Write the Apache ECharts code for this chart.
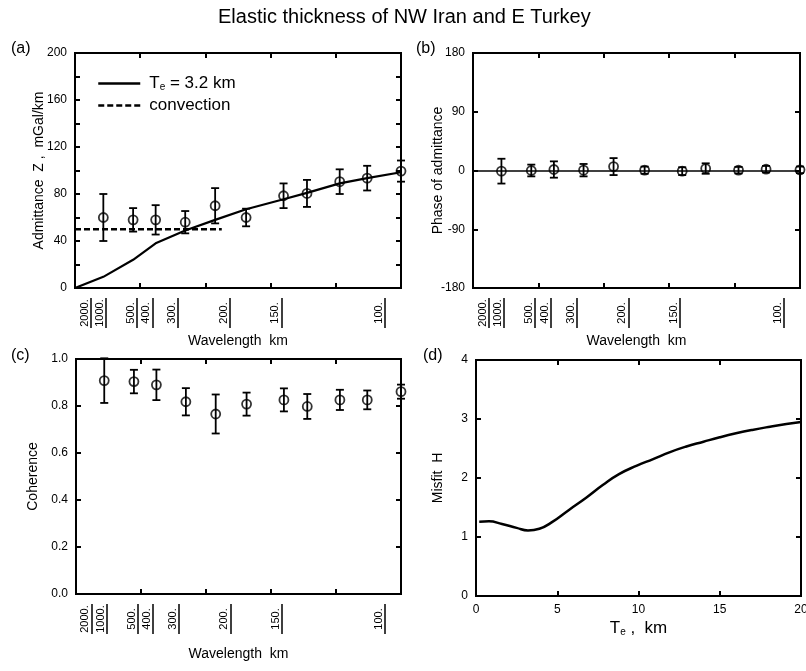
<!DOCTYPE html>
<html>
<head>
<meta charset="utf-8">
<script src="https://cdn.jsdelivr.net/npm/echarts@6/dist/echarts.min.js"></script>
<style>
html, body { margin: 0; padding: 0; background: #fff; }
#chart { width: 806px; height: 671px; }
</style>
</head>
<body>
<div id="chart"></div>
<script>
// Wavelengths (km) marked under the spectral panels
const WAVELENGTH_TICKS = [2000, 1000, 500, 400, 300, 200, 150, 100];
// Shortest wavelength (km) at the right edge of the spectral axes
const MIN_WAVELENGTH = 95;
// Centre wavelength (km) of each spectral band
const BAND_WAVELENGTH = [1093, 533, 384, 281, 221, 181, 148.5, 133.5, 117, 106, 95];

// (a) observed admittance, mGal/km, with one-sigma errors
const ADMITTANCE = [60, 58, 58, 56, 70, 60, 78.5, 80.5, 90.5, 93.5, 99.5];
const ADMITTANCE_ERR = [20, 10, 12.5, 9.5, 15, 7.5, 10.5, 11.5, 10.5, 10.5, 9];
// (a) elastic plate model, Te = 3.2 km (starts at zero wavenumber)
const MODEL_WAVELENGTH = [Infinity, 1093, 533, 384, 281, 221, 181, 148.5, 133.5, 117, 106, 95];
const MODEL_ADMITTANCE = [0, 9.5, 24, 38, 49, 58, 67, 75.5, 81, 89, 93.5, 98.5];
// (a) convective support level
const CONVECTION_WAVELENGTH = [Infinity, 211];
const CONVECTION_ADMITTANCE = [50, 50];

// (b) phase of admittance, degrees
const PHASE = [-1, 0, 1.5, 0.5, 6, 0.5, -1, 3, 0.5, 2, 1];
const PHASE_ERR = [19, 9, 12.5, 9.5, 13, 5.5, 6, 8, 5, 5, 5];

// (c) coherence
const COHERENCE = [0.908, 0.904, 0.89, 0.818, 0.766, 0.808, 0.826, 0.798, 0.826, 0.826, 0.861];
const COHERENCE_ERR = [0.095, 0.05, 0.065, 0.058, 0.083, 0.049, 0.049, 0.053, 0.043, 0.04, 0.03];

// (d) misfit against elastic thickness
const TE_KM = [0.2, 0.8, 1.6, 2.5, 3.2, 3.9, 4.7, 5.7, 6.8, 7.8, 8.8, 9.9, 10.9, 11.9, 12.9, 14.0, 15.0, 16.0, 17.0, 18.1, 19.1, 20.0];
const MISFIT = [1.26, 1.265, 1.22, 1.155, 1.11, 1.14, 1.256, 1.455, 1.67, 1.88, 2.065, 2.21, 2.32, 2.435, 2.53, 2.615, 2.69, 2.757, 2.815, 2.87, 2.915, 2.95];

const MODEL_NAME = 'Te = 3.2 km';
const CONVECTION_NAME = 'convection';

// wavenumber in cycles per 1000 km
const wn = (lambda) => 1000 / lambda;
const K_MAX = wn(MIN_WAVELENGTH);

const FONT = '"Liberation Sans", Arial, Helvetica, sans-serif';
const BLACK = '#000';

const grids = [
  { left: 75, top: 53, width: 326, height: 235 },
  { left: 473, top: 53, width: 327, height: 235 },
  { left: 76, top: 359, width: 325, height: 235 },
  { left: 476, top: 360, width: 325, height: 236 }
].map(g => Object.assign({ show: true, borderColor: BLACK, borderWidth: 2, backgroundColor: 'transparent', outerBoundsMode: 'none' }, g));

const tickStyle = () => ({ show: true, inside: true, length: 5, lineStyle: { color: BLACK, width: 2 } });

function frameAxis(gridIndex, position, extra) {
  return Object.assign({
    gridIndex, position, type: 'value',
    axisLine: { show: false, onZero: false },
    axisTick: tickStyle(),
    axisLabel: { show: false },
    splitLine: { show: false },
    nameMoveOverlap: false
  }, extra);
}

function wavenumberAxes(gridIndex, nameGap) {
  const base = { min: 0, max: K_MAX, interval: K_MAX / 5 };
  const tickValues = WAVELENGTH_TICKS.map(wn);
  return [
    frameAxis(gridIndex, 'bottom', Object.assign({
      name: 'Wavelength  km', nameLocation: 'middle', nameGap,
      nameTextStyle: { fontSize: 14, color: BLACK, fontFamily: FONT }
    }, base)),
    frameAxis(gridIndex, 'top', base),
    frameAxis(gridIndex, 'bottom', Object.assign({
      offset: 10,
      axisTick: { show: true, inside: false, length: 30, customValues: tickValues, lineStyle: { color: BLACK, width: 1.5 } },
      axisLabel: {
        show: true, customValues: tickValues, rotate: 90, margin: 0,
        fontSize: 11, color: BLACK, fontFamily: FONT,
        padding: [0, 0, 12, 0],
        formatter: (v) => '{w|' + Math.round(1000 / v) + '.}',
        rich: { w: { width: 30, align: 'center', fontSize: 11, fontFamily: FONT, color: BLACK } }
      }
    }, base))
  ];
}

const yLabel = (extra) => Object.assign({ show: true, fontSize: 12, color: BLACK, fontFamily: FONT, margin: 8 }, extra);
const yName = (text, gap) => ({
  name: text, nameLocation: 'middle', nameGap: gap, nameRotate: 90,
  nameTextStyle: { fontSize: 14, color: BLACK, fontFamily: FONT }
});

const xAxis = [
  ...wavenumberAxes(0, 46),
  ...wavenumberAxes(1, 46),
  ...wavenumberAxes(2, 53),
  frameAxis(3, 'bottom', {
    min: 0, max: 20, interval: 5,
    axisLabel: yLabel({}),
    name: '{t|T}{s|e}{t| ,  km}', nameLocation: 'middle', nameGap: 24,
    nameTextStyle: {
      color: BLACK, fontFamily: FONT,
      rich: {
        t: { fontSize: 17, fontFamily: FONT, color: BLACK },
        s: { fontSize: 10, fontFamily: FONT, color: BLACK, verticalAlign: 'bottom' }
      }
    }
  }),
  frameAxis(3, 'top', { min: 0, max: 20, interval: 5 })
];

const yAxis = [
  frameAxis(0, 'left', Object.assign({ min: 0, max: 200, interval: 20,
    axisLabel: yLabel({ formatter: (v) => (v % 40 === 0 ? String(v) : '') }) }, yName('Admittance  Z ,  mGal/km', 29))),
  frameAxis(0, 'right', { min: 0, max: 200, interval: 20 }),
  frameAxis(1, 'left', Object.assign({ min: -180, max: 180, interval: 90,
    axisLabel: yLabel({}) }, yName('Phase of admittance', 28))),
  frameAxis(1, 'right', { min: -180, max: 180, interval: 90 }),
  frameAxis(2, 'left', Object.assign({ min: 0, max: 1, interval: 0.2,
    axisLabel: yLabel({ formatter: (v) => v.toFixed(1) }) }, yName('Coherence', 36))),
  frameAxis(2, 'right', { min: 0, max: 1, interval: 0.2 }),
  frameAxis(3, 'left', Object.assign({ min: 0, max: 4, interval: 1,
    axisLabel: yLabel({}) }, yName('Misfit  H', 31))),
  frameAxis(3, 'right', { min: 0, max: 4, interval: 1 })
];

// vertical error bar with short caps, placed through the axis scales
function errorBarItem(params, api) {
  const x = api.value(0), y = api.value(1), e = api.value(2);
  const hi = api.coord([x, y + e]);
  const lo = api.coord([x, y - e]);
  const cap = 4;
  const style = { stroke: BLACK, lineWidth: 1.8, fill: null };
  return {
    type: 'group',
    children: [
      { type: 'line', shape: { x1: hi[0], y1: hi[1], x2: lo[0], y2: lo[1] }, style },
      { type: 'line', shape: { x1: hi[0] - cap, y1: hi[1], x2: hi[0] + cap, y2: hi[1] }, style },
      { type: 'line', shape: { x1: lo[0] - cap, y1: lo[1], x2: lo[0] + cap, y2: lo[1] }, style }
    ]
  };
}

function bandSeries(axisIndex, yIndex, values, errors, extra) {
  const bars = BAND_WAVELENGTH.map((l, i) => [wn(l), values[i], errors[i]]);
  const pts = BAND_WAVELENGTH.map((l, i) => [wn(l), values[i]]);
  return [
    {
      type: 'custom', xAxisIndex: axisIndex, yAxisIndex: yIndex,
      renderItem: errorBarItem, data: bars, encode: { x: 0, y: 1 }, silent: true, z: 3
    },
    Object.assign({
      type: 'scatter', xAxisIndex: axisIndex, yAxisIndex: yIndex,
      data: pts, symbol: 'circle', symbolSize: 9, clip: false, silent: true, z: 4,
      itemStyle: { color: 'rgba(255,255,255,0)', borderColor: BLACK, borderWidth: 1.8 }
    }, extra || {})
  ];
}

const series = [
  {
    name: MODEL_NAME, type: 'line', xAxisIndex: 0, yAxisIndex: 0,
    data: MODEL_WAVELENGTH.map((l, i) => [wn(l), MODEL_ADMITTANCE[i]]),
    symbol: 'none', itemStyle: { color: BLACK }, lineStyle: { color: BLACK, width: 2.2 }, silent: true
  },
  {
    name: CONVECTION_NAME, type: 'line', xAxisIndex: 0, yAxisIndex: 0,
    data: CONVECTION_WAVELENGTH.map((l, i) => [wn(l), CONVECTION_ADMITTANCE[i]]),
    symbol: 'none', itemStyle: { color: BLACK }, lineStyle: { color: BLACK, width: 2.5, type: [6, 3] }, silent: true
  },
  ...bandSeries(0, 0, ADMITTANCE, ADMITTANCE_ERR),
  ...bandSeries(3, 2, PHASE, PHASE_ERR, {
    markLine: {
      silent: true, symbol: 'none', label: { show: false },
      lineStyle: { color: BLACK, width: 1.5, type: 'solid' },
      data: [{ yAxis: 0 }]
    }
  }),
  ...bandSeries(6, 4, COHERENCE, COHERENCE_ERR),
  {
    type: 'line', xAxisIndex: 9, yAxisIndex: 6,
    data: TE_KM.map((t, i) => [t, MISFIT[i]]),
    symbol: 'none', smooth: true, lineStyle: { color: BLACK, width: 2.5 }, silent: true
  }
];

const panelTag = (text, left, top) => ({
  text, left, top, padding: 0,
  textStyle: { fontSize: 16, fontWeight: 'normal', color: BLACK, fontFamily: FONT }
});

const option = {
  animation: false,
  backgroundColor: '#fff',
  textStyle: { fontFamily: FONT, color: BLACK },
  title: [
    {
      text: 'Elastic thickness of NW Iran and E Turkey', left: 218, top: 7, padding: 0,
      textStyle: { fontSize: 20, fontWeight: 'normal', color: BLACK, fontFamily: FONT }
    },
    panelTag('(a)', 11, 41),
    panelTag('(b)', 416, 41),
    panelTag('(c)', 11, 348),
    panelTag('(d)', 423, 348)
  ],
  legend: {
    left: 97, top: 75, padding: 0, orient: 'vertical',
    itemWidth: 42, itemHeight: 12, itemGap: 5,
    selectedMode: false,
    data: [MODEL_NAME, CONVECTION_NAME],
    lineStyle: { width: 2.5 },
    itemStyle: { opacity: 0 },
    formatter: (name) => name === MODEL_NAME
      ? '{t|T}{s|e}{u| = 3.2 km}'
      : '{t|' + name + '}',
    textStyle: {
      fontSize: 17, color: BLACK, fontFamily: FONT,
      rich: {
        t: { fontSize: 17, color: BLACK, fontFamily: FONT, padding: [0, 0, 0, 4] },
        s: { fontSize: 10, color: BLACK, fontFamily: FONT, verticalAlign: 'bottom' },
        u: { fontSize: 17, color: BLACK, fontFamily: FONT }
      }
    }
  },
  grid: grids,
  xAxis,
  yAxis,
  series
};

const chart = echarts.init(document.getElementById('chart'), null, { renderer: 'canvas' });
chart.setOption(option);
</script>
</body>
</html>
